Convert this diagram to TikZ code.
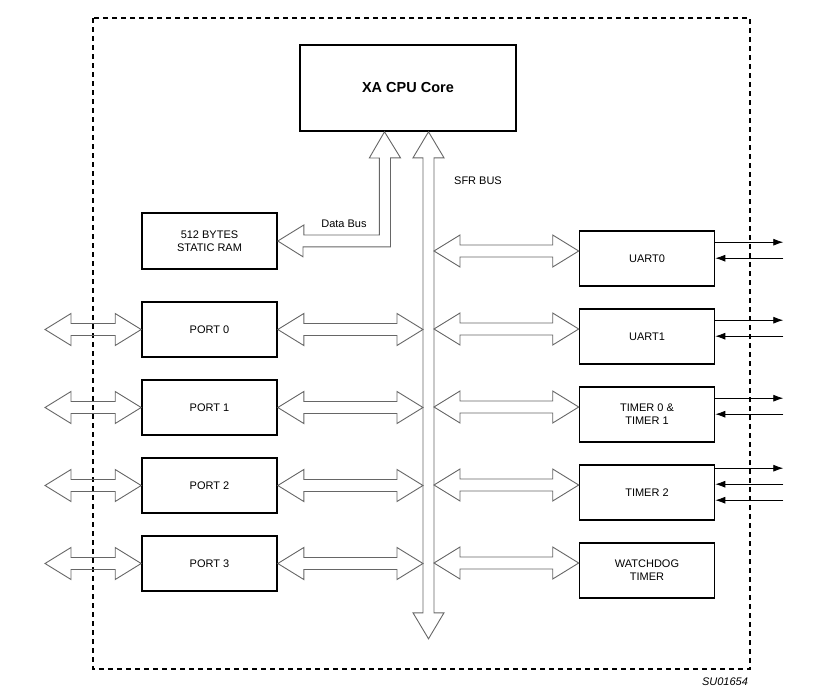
\documentclass[tikz,border=0pt]{standalone}
\usepackage{fontspec}
\setmainfont{Liberation Sans}
\usetikzlibrary{arrows.meta,calc}

% horizontal double arrow between two tips
\newcommand{\hbus}[2]{\draw[bus] let \p1=#1, \p2=#2 in (\x1,\y1) -- (\x1+26pt,\y1+16pt) -- (\x1+26pt,\y1+6pt) -- (\x2-26pt,\y1+6pt) -- (\x2-26pt,\y1+16pt) -- (\x2,\y1) -- (\x2-26pt,\y1-16pt) -- (\x2-26pt,\y1-6pt) -- (\x1+26pt,\y1-6pt) -- (\x1+26pt,\y1-16pt) -- cycle;}

\begin{document}
\begin{tikzpicture}[x=1pt, y=-1pt,
  blk/.style={draw, line width=1.6pt, minimum width=135pt, minimum height=55pt, align=center, font=\fontsize{11}{13}\selectfont},
  bus/.style={draw=black!60, line width=0.9pt},
  sig/.style={line width=0.8pt, -{Latex[length=10pt,width=7pt]}},
  lbl/.style={font=\fontsize{11}{13}\selectfont}]
\useasboundingbox (0,0) rectangle (823,694);
\draw[line width=1.4pt, dash pattern=on 5pt off 4pt] (93,18) rectangle (750,669);

\node[blk, minimum width=216pt, minimum height=86pt, font=\fontsize{14.5}{16}\selectfont\bfseries] (cpu) at (408,88) {XA CPU Core};
\node[blk, minimum height=56pt] (ram) at (209.5,241) {512 BYTES\\STATIC RAM};
\node[blk] (p0) at (209.5,329.5) {PORT 0};
\node[blk] (p1) at (209.5,407.5) {PORT 1};
\node[blk] (p2) at (209.5,485.5) {PORT 2};
\node[blk] (p3) at (209.5,563.5) {PORT 3};
\node[blk] (u0) at (647,258.5) {UART0};
\node[blk] (u1) at (647,336.5) {UART1};
\node[blk] (t01) at (647,414.5) {TIMER 0 \&\\TIMER 1};
\node[blk] (t2) at (647,492.5) {TIMER 2};
\node[blk] (wd) at (647,570.5) {WATCHDOG\\TIMER};

% data bus
\draw[bus] ([xshift=-23.5pt]cpu.south) -- ++(16,26) -- ++(-10,0) -- ++(0,89) -- ++(-87.5,0) -- ++(0,10) -- (ram.east) -- ++(26,-16) -- ++(0,10) -- ++(75.5,0) -- ++(0,-77) -- ++(-10,0) -- cycle;
\node[lbl] (db) at (344,224) {Data Bus};

% SFR bus
\draw[bus] ([xshift=20.5pt]cpu.south) -- ++(15.5,26) -- ++(-10,0) -- ++(0,455) -- ++(10,0) -- ++(-15.5,26) -- ++(-15.5,-26) -- ++(10,0) -- ++(0,-455) -- ++(-10,0) -- cycle;
\node[lbl] (sfr) at (478,181) {SFR BUS};
\coordinate (sfrL) at (423,160);
\coordinate (sfrR) at (434,160);
\coordinate (pin) at (45,329.5);

\foreach \q in {p0,p1,p2,p3} {
  \hbus{(\q.east)}{(sfrL |- \q.east)}
  \hbus{(pin |- \q.west)}{(\q.west)}
}
\foreach \b in {u0,u1,t01,t2,wd} {
  \coordinate (\b-in) at ([yshift=7.5pt]\b.west);
  \hbus{(sfrR |- \b-in)}{(\b-in)}
}

% pins
\foreach \b in {u0,u1,t01} {
  \draw[sig] ([yshift=-12pt]\b.north east) -- +(68,0);
  \draw[sig] ([yshift=-28pt]\b.north east) ++(68,0) -- +(-68,0);
}
\draw[sig] ([yshift=-4pt]t2.north east) -- +(68,0);
\draw[sig] ([yshift=-20pt]t2.north east) ++(68,0) -- +(-68,0);
\draw[sig] ([yshift=-36pt]t2.north east) ++(68,0) -- +(-68,0);

\node[lbl, font=\fontsize{11}{13}\selectfont\itshape] (id) at (725,682) {SU01654};
\end{tikzpicture}
\end{document}
